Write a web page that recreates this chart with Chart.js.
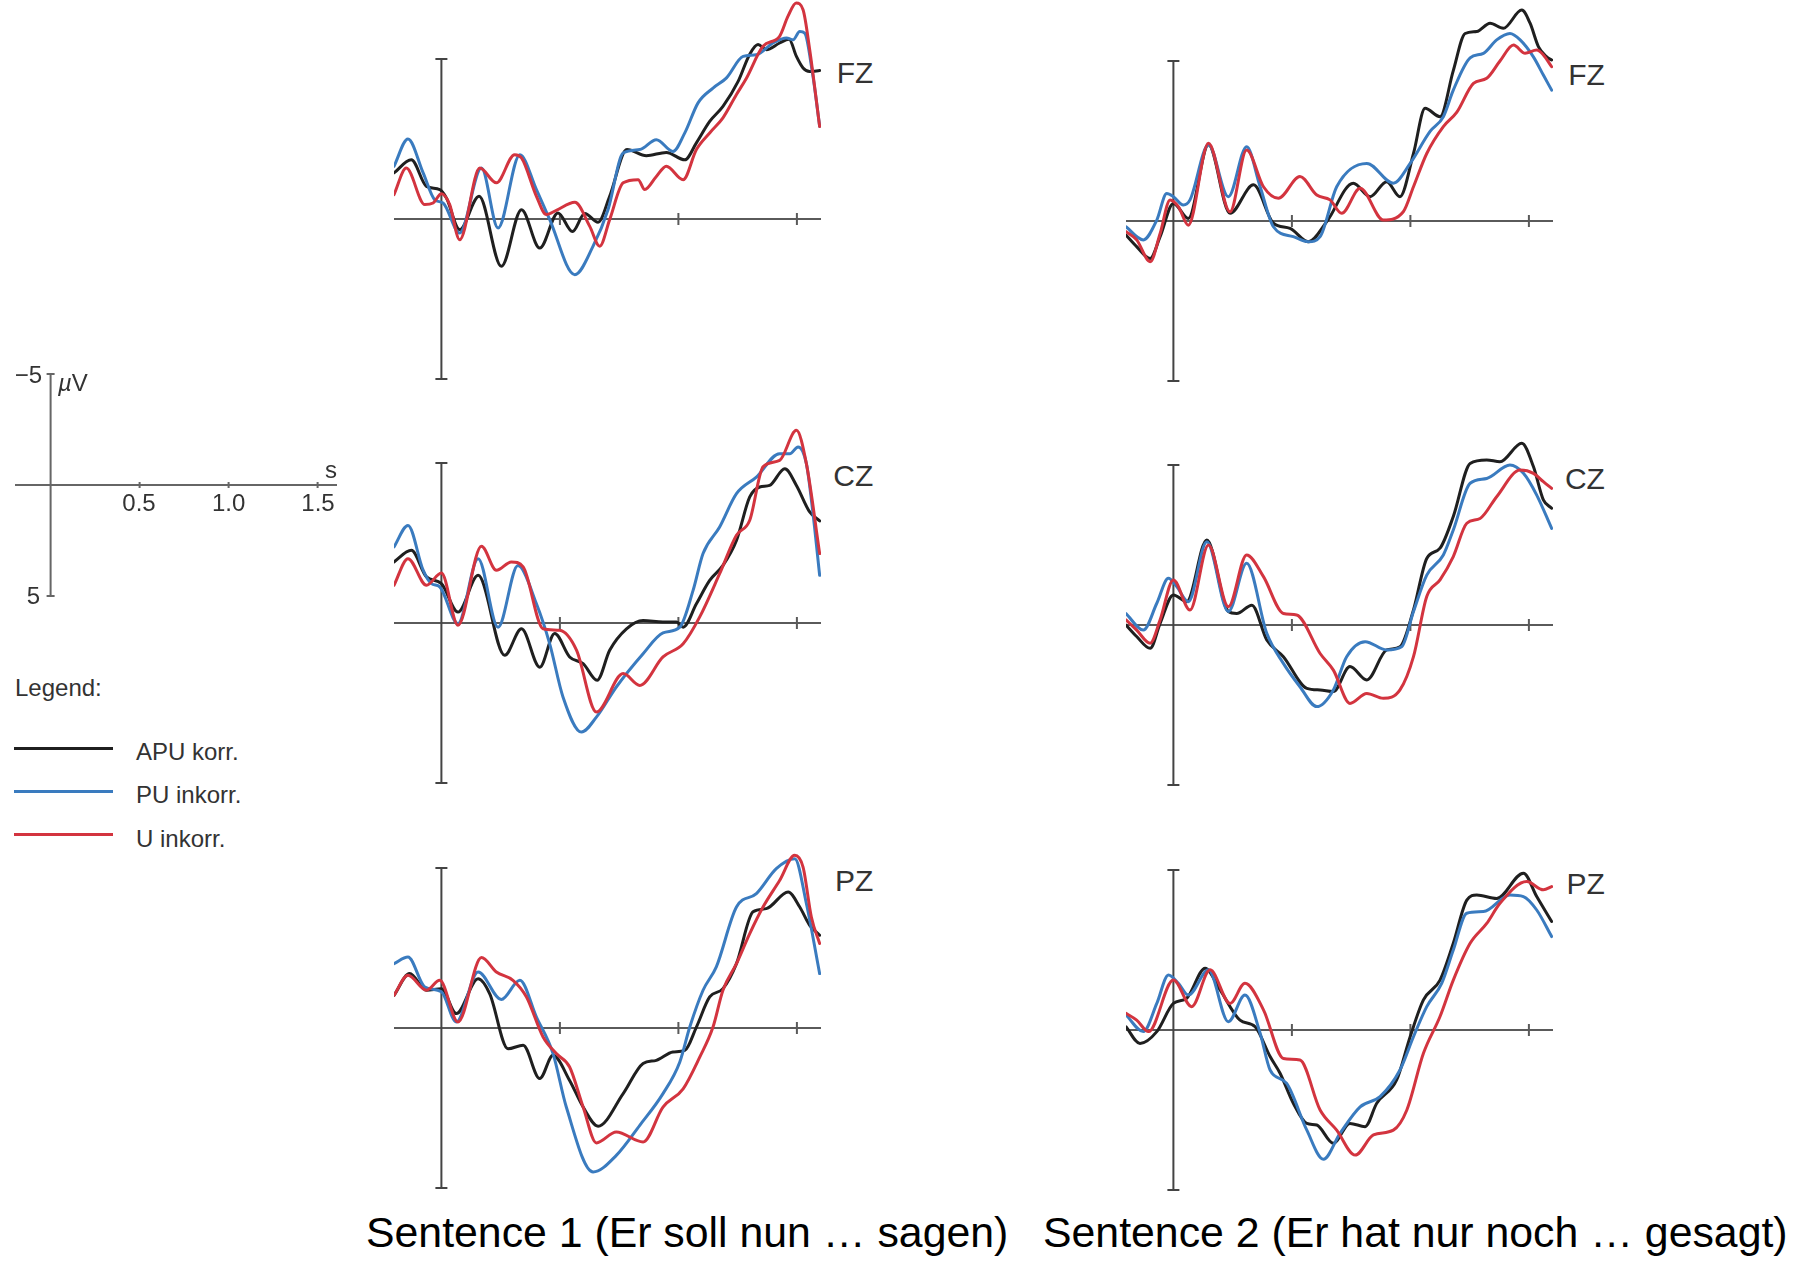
<!DOCTYPE html>
<html>
<head>
<meta charset="utf-8">
<script src="https://cdn.jsdelivr.net/npm/chart.js@4.4.1/dist/chart.umd.min.js"></script>
<style>
  body { margin: 0; width: 1806px; height: 1262px; position: relative; overflow: hidden; background: #fff;
         font-family: "Liberation Sans", Arial, Helvetica, sans-serif; }
  canvas { position: absolute; }
  .txt { position: absolute; line-height: 1; white-space: nowrap; color: #333; }
  .small { font-size: 24px; }
  .mid { transform: translateX(-50%); }
  .lbl { font-size: 30px; text-align: right; }
  .cap { font-size: 42.8px; color: #000; }
  .swatch { position: absolute; left: 14px; width: 99px; height: 3px; }
</style>
</head>
<body>

<!-- scale legend -->
<canvas id="scale" width="322" height="244" style="left:15px; top:363px;"></canvas>
<div class="txt small" style="right:1764px; top:363px;">−5</div>
<div class="txt small" style="right:1766px; top:584px;">5</div>
<div class="txt small" style="left:58px; top:371px;"><i>µ</i>V</div>
<div class="txt small" style="left:325px; top:458px;">s</div>
<div class="txt small mid" style="left:139px; top:491px;">0.5</div>
<div class="txt small mid" style="left:228.7px; top:491px;">1.0</div>
<div class="txt small mid" style="left:318px; top:491px;">1.5</div>

<!-- legend -->
<div class="txt small" style="left:15px; top:676px;">Legend:</div>
<div class="swatch" style="top:747px; background:#1f1f1f;"></div>
<div class="swatch" style="top:790px; background:#3a7bbf;"></div>
<div class="swatch" style="top:833px; background:#d3343f;"></div>
<div class="txt small" style="left:136px; top:740px;">APU korr.</div>
<div class="txt small" style="left:136px; top:783px;">PU inkorr.</div>
<div class="txt small" style="left:136px; top:827px;">U inkorr.</div>

<div class="txt cap" style="left:366px; top:1211px;">Sentence 1 (Er soll nun … sagen)</div>
<div class="txt cap" style="left:1043px; top:1211px;">Sentence 2 (Er hat nur noch … gesagt)</div>

<script>
// ERP waveforms, [time in s, amplitude in µV] (negative plotted up)
const seriesNames = ['APU korr.', 'PU inkorr.', 'U inkorr.'];
const seriesColors = ['#1f1f1f', '#3a7bbf', '#d3343f'];
const timeTicks = [0.5, 1.0, 1.5];

// Sentence 1 (Er soll nun ... sagen)
const s1FzApu = [[-0.2,-1.44],[-0.127,-1.85],[-0.063,-1.02],[-0.007,-0.92],[0.021,-0.66],[0.077,0.33],[0.159,-0.71],[0.253,1.48],[0.338,-0.29],[0.415,0.91],[0.492,-0.19],[0.553,0.39],[0.605,-0.17],[0.661,0.10],[0.710,-0.71],[0.783,-2.17],[0.865,-1.98],[0.949,-2.08],[1.027,-1.85],[1.076,-2.38],[1.132,-3.05],[1.188,-3.52],[1.252,-4.30],[1.301,-5.15],[1.336,-5.45],[1.371,-5.29],[1.427,-5.50],[1.467,-5.62],[1.498,-5.08],[1.526,-4.72],[1.554,-4.61],[1.596,-4.64]];
const s1FzPu = [[-0.2,-1.65],[-0.141,-2.50],[-0.077,-1.44],[-0.028,-0.60],[0.007,-0.50],[0.077,0.44],[0.169,-1.59],[0.239,0.28],[0.331,-2.01],[0.401,-0.92],[0.457,0.02],[0.563,1.74],[0.640,0.85],[0.703,-0.29],[0.767,-2.06],[0.837,-2.17],[0.907,-2.48],[0.977,-2.11],[1.027,-2.69],[1.083,-3.63],[1.146,-4.09],[1.203,-4.41],[1.273,-5.08],[1.329,-5.13],[1.399,-5.50],[1.456,-5.66],[1.484,-5.60],[1.512,-5.86],[1.533,-5.81],[1.565,-4.60],[1.596,-2.90]];
const s1FzU = [[-0.2,-0.76],[-0.148,-1.59],[-0.070,-0.45],[-0.035,-0.50],[0.000,-0.79],[0.035,-0.45],[0.077,0.65],[0.162,-1.59],[0.232,-1.13],[0.309,-2.01],[0.338,-1.91],[0.401,-0.71],[0.443,-0.14],[0.485,-0.27],[0.563,-0.52],[0.626,0.23],[0.668,0.85],[0.710,0.02],[0.767,-1.13],[0.830,-1.23],[0.858,-0.92],[0.907,-1.33],[0.949,-1.65],[1.020,-1.23],[1.076,-2.17],[1.132,-2.69],[1.188,-3.16],[1.245,-3.89],[1.287,-4.40],[1.357,-5.40],[1.427,-5.71],[1.462,-6.33],[1.497,-6.75],[1.526,-6.54],[1.554,-5.29],[1.596,-2.89]];

const s1CzApu = [[-0.2,-1.91],[-0.127,-2.27],[-0.063,-1.44],[0.000,-1.23],[0.070,-0.34],[0.155,-1.49],[0.267,1.01],[0.338,0.18],[0.415,1.38],[0.478,0.33],[0.541,1.06],[0.598,1.27],[0.657,1.79],[0.710,0.85],[0.781,0.18],[0.851,-0.08],[0.935,-0.03],[0.992,-0.03],[1.020,0.13],[1.076,-0.60],[1.132,-1.33],[1.188,-1.80],[1.245,-2.58],[1.301,-3.94],[1.343,-4.25],[1.385,-4.30],[1.449,-4.82],[1.498,-4.30],[1.554,-3.47],[1.596,-3.19]];
const s1CzPu = [[-0.2,-2.38],[-0.141,-3.05],[-0.077,-1.65],[-0.042,-1.23],[-0.007,-1.13],[0.070,0.02],[0.155,-2.01],[0.239,0.13],[0.323,-1.80],[0.401,-0.60],[0.457,0.65],[0.513,2.31],[0.591,3.41],[0.654,2.94],[0.738,2.00],[0.851,0.96],[0.935,0.31],[1.006,0.13],[1.062,-1.02],[1.104,-2.17],[1.174,-3.00],[1.245,-4.04],[1.329,-4.56],[1.427,-5.29],[1.470,-5.29],[1.505,-5.50],[1.540,-4.98],[1.568,-3.42],[1.596,-1.49]];
const s1CzU = [[-0.2,-1.18],[-0.141,-2.01],[-0.063,-1.18],[0.000,-1.56],[0.070,0.07],[0.169,-2.40],[0.232,-1.65],[0.295,-1.91],[0.345,-1.75],[0.429,0.18],[0.499,0.23],[0.570,0.85],[0.654,2.78],[0.767,1.58],[0.837,1.95],[0.935,1.06],[1.020,0.65],[1.090,-0.19],[1.174,-1.54],[1.245,-2.74],[1.301,-3.21],[1.357,-4.88],[1.427,-5.08],[1.498,-6.02],[1.540,-4.98],[1.596,-2.17]];

const s1PzApu = [[-0.2,-1.02],[-0.134,-1.70],[-0.063,-1.18],[0.000,-1.23],[0.063,-0.45],[0.155,-1.54],[0.204,-1.07],[0.281,0.65],[0.345,0.54],[0.415,1.58],[0.471,0.85],[0.541,1.64],[0.598,2.47],[0.661,3.07],[0.767,2.05],[0.851,1.11],[0.907,1.01],[0.977,0.75],[1.027,0.70],[1.076,-0.03],[1.132,-0.97],[1.188,-1.23],[1.245,-2.01],[1.315,-3.63],[1.371,-3.73],[1.463,-4.25],[1.512,-3.78],[1.554,-3.21],[1.596,-2.90]];
const s1PzPu = [[-0.2,-2.01],[-0.141,-2.22],[-0.070,-1.28],[0.000,-1.13],[0.063,-0.19],[0.155,-1.75],[0.253,-0.89],[0.331,-1.49],[0.401,-0.34],[0.471,0.80],[0.527,2.47],[0.640,4.50],[0.738,3.98],[0.837,3.04],[0.935,2.05],[1.006,1.06],[1.048,-0.03],[1.104,-1.18],[1.160,-1.91],[1.245,-3.78],[1.329,-4.20],[1.413,-4.98],[1.491,-5.29],[1.540,-3.89],[1.596,-1.70]];
const s1PzU = [[-0.2,-1.02],[-0.141,-1.65],[-0.063,-1.18],[-0.007,-1.49],[0.070,-0.19],[0.169,-2.20],[0.232,-1.75],[0.302,-1.49],[0.359,-0.97],[0.429,0.28],[0.485,0.80],[0.541,1.22],[0.598,2.47],[0.654,3.59],[0.738,3.25],[0.851,3.56],[0.935,2.47],[1.020,1.90],[1.090,0.91],[1.146,-0.03],[1.188,-1.18],[1.245,-2.01],[1.301,-2.95],[1.357,-3.78],[1.427,-4.61],[1.491,-5.40],[1.526,-5.03],[1.561,-3.47],[1.596,-2.64]];

// Sentence 2 (Er hat nur noch ... gesagt)
const s2FzApu = [[-0.2,0.44],[-0.155,0.80],[-0.098,1.17],[-0.056,0.49],[0.000,-0.55],[0.063,-0.08],[0.148,-2.38],[0.239,-0.24],[0.338,-1.13],[0.422,0.07],[0.492,0.23],[0.570,0.65],[0.647,0.02],[0.759,-1.18],[0.830,-0.76],[0.900,-1.23],[0.956,-0.76],[1.013,-2.11],[1.062,-3.52],[1.125,-3.26],[1.181,-4.70],[1.231,-5.86],[1.280,-5.92],[1.336,-6.18],[1.392,-6.02],[1.470,-6.59],[1.505,-6.18],[1.540,-5.45],[1.575,-5.13],[1.596,-5.03]];
const s2FzPu = [[-0.2,0.18],[-0.127,0.59],[-0.070,-0.03],[-0.028,-0.86],[0.000,-0.76],[0.042,-0.50],[0.070,-0.66],[0.148,-2.38],[0.232,-0.76],[0.309,-2.32],[0.366,-1.07],[0.422,0.18],[0.506,0.49],[0.570,0.65],[0.619,0.49],[0.689,-1.07],[0.816,-1.80],[0.928,-1.18],[0.999,-1.80],[1.083,-2.80],[1.139,-3.26],[1.181,-4.09],[1.252,-5.10],[1.308,-5.24],[1.364,-5.66],[1.420,-5.86],[1.463,-5.66],[1.519,-5.13],[1.561,-4.56],[1.596,-4.09]];
const s2FzU = [[-0.2,0.33],[-0.155,0.59],[-0.098,1.27],[-0.056,0.39],[-0.014,-0.66],[0.021,-0.45],[0.063,0.13],[0.148,-2.43],[0.239,-0.29],[0.309,-2.22],[0.380,-1.07],[0.443,-0.71],[0.534,-1.39],[0.605,-0.81],[0.661,-0.66],[0.710,-0.24],[0.788,-1.02],[0.886,-0.03],[0.970,-0.29],[1.013,-1.07],[1.069,-2.11],[1.139,-2.95],[1.196,-3.40],[1.266,-4.30],[1.322,-4.46],[1.378,-5.00],[1.435,-5.50],[1.484,-5.24],[1.533,-5.34],[1.561,-5.19],[1.596,-4.82]];

const s2CzApu = [[-0.2,0.00],[-0.155,0.36],[-0.098,0.73],[-0.056,-0.05],[0.000,-0.94],[0.056,-0.73],[0.141,-2.66],[0.232,-0.42],[0.267,-0.36],[0.331,-0.62],[0.394,0.47],[0.464,0.99],[0.563,1.98],[0.619,2.03],[0.675,2.08],[0.745,1.30],[0.816,1.72],[0.900,0.78],[0.956,0.68],[1.013,-0.47],[1.069,-2.08],[1.125,-2.40],[1.181,-3.39],[1.252,-5.05],[1.322,-5.16],[1.378,-5.10],[1.470,-5.68],[1.519,-4.95],[1.561,-3.91],[1.596,-3.65]];
const s2CzPu = [[-0.2,-0.36],[-0.127,0.16],[-0.070,-0.68],[-0.021,-1.46],[0.014,-1.20],[0.063,-0.73],[0.141,-2.60],[0.232,-0.42],[0.309,-1.93],[0.394,0.26],[0.464,1.20],[0.534,1.93],[0.605,2.55],[0.675,2.03],[0.731,0.99],[0.809,0.52],[0.900,0.78],[0.963,0.68],[1.013,-0.42],[1.069,-1.56],[1.139,-2.19],[1.181,-2.97],[1.252,-4.43],[1.322,-4.58],[1.420,-5.00],[1.477,-4.74],[1.533,-4.06],[1.596,-3.02]];
const s2CzU = [[-0.2,-0.16],[-0.155,0.16],[-0.098,0.57],[-0.056,-0.16],[0.000,-1.41],[0.070,-0.47],[0.148,-2.50],[0.232,-0.57],[0.309,-2.19],[0.380,-1.51],[0.464,-0.36],[0.520,-0.31],[0.619,0.89],[0.675,1.41],[0.745,2.45],[0.816,2.14],[0.886,2.29],[0.956,2.03],[1.013,0.99],[1.069,-0.89],[1.125,-1.41],[1.181,-2.14],[1.238,-3.18],[1.294,-3.33],[1.364,-4.01],[1.463,-4.84],[1.519,-4.74],[1.561,-4.48],[1.596,-4.27]];

const s2PzApu = [[-0.2,-0.10],[-0.141,0.42],[-0.070,0.05],[0.000,-0.83],[0.056,-0.99],[0.134,-1.93],[0.197,-1.25],[0.281,-0.31],[0.345,-0.10],[0.408,0.83],[0.450,1.35],[0.506,2.29],[0.563,2.92],[0.605,2.97],[0.675,3.54],[0.745,2.92],[0.809,3.02],[0.858,2.29],[0.942,1.56],[0.999,0.21],[1.055,-0.94],[1.125,-1.56],[1.181,-2.71],[1.238,-4.06],[1.280,-4.22],[1.364,-4.11],[1.477,-4.90],[1.533,-4.17],[1.596,-3.39]];
const s2PzPu = [[-0.2,-0.47],[-0.127,0.05],[-0.070,-0.83],[-0.021,-1.72],[0.021,-1.46],[0.063,-1.09],[0.148,-1.88],[0.232,-0.26],[0.302,-1.09],[0.366,0.10],[0.408,1.25],[0.478,1.67],[0.563,3.13],[0.633,4.04],[0.703,3.23],[0.788,2.40],[0.872,2.08],[0.956,1.25],[1.013,0.21],[1.069,-0.73],[1.132,-1.46],[1.181,-2.50],[1.238,-3.65],[1.308,-3.70],[1.420,-4.22],[1.477,-4.17],[1.533,-3.75],[1.596,-2.92]];
const s2PzU = [[-0.2,-0.52],[-0.155,-0.31],[-0.105,0.05],[0.000,-1.56],[0.077,-0.73],[0.155,-1.88],[0.239,-0.83],[0.302,-1.46],[0.380,-0.63],[0.464,0.89],[0.534,0.94],[0.619,2.50],[0.689,3.13],[0.767,3.91],[0.844,3.28],[0.928,3.13],[0.985,2.50],[1.055,0.73],[1.125,-0.42],[1.181,-1.56],[1.252,-2.71],[1.322,-3.33],[1.378,-3.96],[1.491,-4.64],[1.561,-4.38],[1.596,-4.48]];

// panel geometry (px)
const PX_PER_S = 237, PX_PER_UV = 32;
const T_MIN = -0.2, V_MIN = -7.5, V_MAX = 5.5;
const PANEL_W = 427, PANEL_H = (V_MAX - V_MIN) * PX_PER_UV;

const panels = [
  { label: 'FZ', zeroX: 441.7, zeroY: 219.3, series: [s1FzApu, s1FzPu, s1FzU] },
  { label: 'CZ', zeroX: 441.7, zeroY: 622.7, series: [s1CzApu, s1CzPu, s1CzU] },
  { label: 'PZ', zeroX: 441.7, zeroY: 1027.7, series: [s1PzApu, s1PzPu, s1PzU] },
  { label: 'FZ', zeroX: 1173.3, zeroY: 221, series: [s2FzApu, s2FzPu, s2FzU] },
  { label: 'CZ', zeroX: 1173.3, zeroY: 625, series: [s2CzApu, s2CzPu, s2CzU] },
  { label: 'PZ', zeroX: 1173.3, zeroY: 1030, series: [s2PzApu, s2PzPu, s2PzU] },
];

// draws the zero line with time ticks and the capped amplitude axis
const erpAxes = {
  id: 'erpAxes',
  beforeDatasetsDraw(chart, args, o) {
    const { ctx, chartArea, scales: { x, y } } = chart;
    const y0 = y.getPixelForValue(0), x0 = x.getPixelForValue(0);
    ctx.save();
    ctx.lineWidth = o.width;
    ctx.strokeStyle = o.xColor;
    ctx.beginPath();
    ctx.moveTo(chartArea.left, y0);
    ctx.lineTo(chartArea.right, y0);
    timeTicks.forEach(t => {
      const px = x.getPixelForValue(t);
      ctx.moveTo(px, y0 - o.tick);
      ctx.lineTo(px, y0 + o.tick);
    });
    ctx.stroke();
    ctx.strokeStyle = o.yColor;
    ctx.beginPath();
    const yTop = y.getPixelForValue(-5), yBot = y.getPixelForValue(5);
    ctx.moveTo(x0, yTop); ctx.lineTo(x0, yBot);
    ctx.moveTo(x0 - o.cap, yTop); ctx.lineTo(x0 + o.cap, yTop);
    ctx.moveTo(x0 - o.cap, yBot); ctx.lineTo(x0 + o.cap, yBot);
    ctx.stroke();
    ctx.restore();
  }
};

function baseOptions(tMax, vMin, vMax, axisOpts) {
  return {
    responsive: false,
    animation: false,
    events: [],
    layout: { padding: 0 },
    plugins: { legend: { display: false }, tooltip: { enabled: false }, erpAxes: axisOpts },
    scales: {
      x: { type: 'linear', min: T_MIN, max: tMax, display: false },
      y: { type: 'linear', min: vMin, max: vMax, reverse: true, display: false }
    },
    elements: {
      point: { radius: 0 },
      line: { borderWidth: 3, cubicInterpolationMode: 'monotone', borderJoinStyle: 'round', borderCapStyle: 'round' }
    }
  };
}

panels.forEach(p => {
  const cv = document.createElement('canvas');
  cv.width = PANEL_W;
  cv.height = PANEL_H;
  cv.style.left = (p.zeroX + T_MIN * PX_PER_S) + 'px';
  cv.style.top = (p.zeroY + V_MIN * PX_PER_UV) + 'px';
  document.body.appendChild(cv);

  const lbl = document.createElement('div');
  lbl.className = 'txt lbl';
  lbl.textContent = p.label;
  lbl.style.right = (1806 - (p.zeroX + 431.6)) + 'px';
  lbl.style.top = (p.zeroY - 136 - 25.4) + 'px';
  document.body.appendChild(lbl);

  new Chart(cv, {
    type: 'line',
    data: {
      datasets: p.series.map((s, k) => ({
        label: seriesNames[k],
        data: s.map(([t, v]) => ({ x: t, y: v })),
        borderColor: seriesColors[k],
        order: 2 - k,
        clip: false
      }))
    },
    options: baseOptions(T_MIN + PANEL_W / PX_PER_S, V_MIN, V_MAX,
      { width: 2, xColor: '#5a5a5a', yColor: '#444', tick: 6, cap: 6 }),
    plugins: [erpAxes]
  });
});

// scale bar: 0.5 s = 89 px, 10 µV = 222 px
new Chart(document.getElementById('scale'), {
  type: 'line',
  data: { datasets: [] },
  options: baseOptions(T_MIN + 322 / 178, -5.5, 5.5,
    { width: 2, xColor: '#666', yColor: '#666', tick: 3, cap: 4 }),
  plugins: [erpAxes]
});
</script>
</body>
</html>
